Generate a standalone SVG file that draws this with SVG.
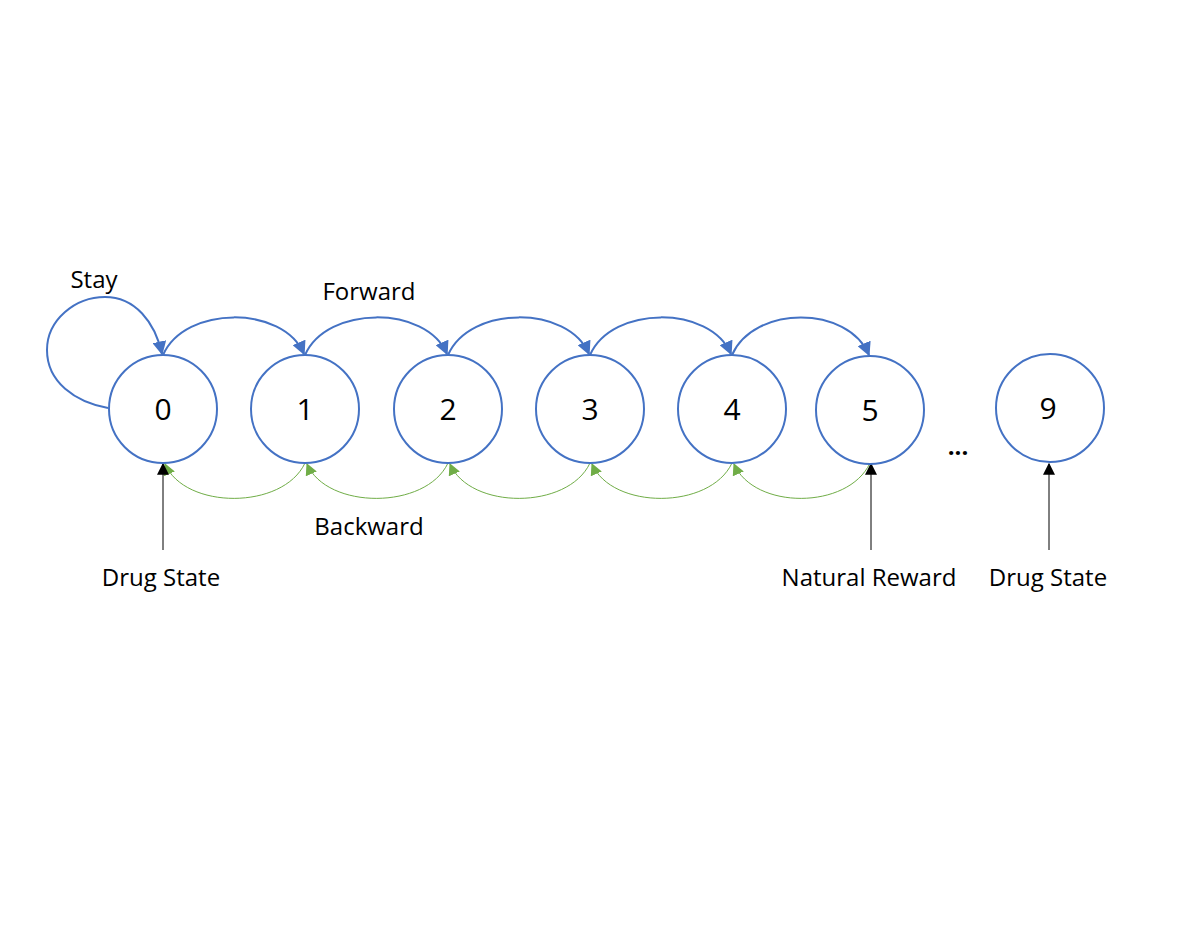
<svg xmlns="http://www.w3.org/2000/svg" width="1200" height="950" viewBox="0 0 1200 950">
<style>
.node{fill:#fff;stroke:#4472C4;stroke-width:2}
.num{font-family:"Open Sans","Liberation Sans",sans-serif;font-size:30px;fill:#000;text-anchor:middle}
.lbl{font-family:"Open Sans","Liberation Sans",sans-serif;font-size:24px;fill:#000;text-anchor:middle}
.fwd{fill:none;stroke:#4472C4;stroke-width:2;marker-end:url(#ab)}
.bwd{fill:none;stroke:#70AD47;stroke-width:1;marker-end:url(#ag)}
.inp{fill:none;stroke:#000;stroke-width:1;marker-end:url(#ak)}
</style>
<defs>
<marker id="ab" viewBox="0 0 10 10" refX="9" refY="5" markerWidth="7" markerHeight="7" orient="auto" markerUnits="strokeWidth"><path d="M0,0 L10,5 L0,10 z" fill="#4472C4"/></marker>
<marker id="ag" viewBox="0 0 10 10" refX="9" refY="5" markerWidth="12" markerHeight="12" orient="auto" markerUnits="strokeWidth"><path d="M0,0 L10,5 L0,10 z" fill="#70AD47"/></marker>
<marker id="ak" viewBox="0 0 10 10" refX="9" refY="5" markerWidth="12" markerHeight="12" orient="auto" markerUnits="strokeWidth"><path d="M0,0 L10,5 L0,10 z" fill="#000"/></marker>
</defs>
<rect width="1200" height="950" fill="#fff"/>
<g id="connectors">
<path class="fwd" d="M108,408 C75,402 47,382 47,350 C47,320 75,297 105,297 C135,297 155,322 162,354"/>
<path class="fwd" d="M163,355 C185,305 283,305 304,354"/>
<path class="fwd" d="M305,355 C327,305 426,305 447,354"/>
<path class="fwd" d="M448,355 C470,305 568,305 589,354"/>
<path class="fwd" d="M590,355 C612,305 710,305 731,354"/>
<path class="fwd" d="M732,355 C754,305 848,305 869,355"/>
<path class="bwd" d="M305,463 C283,510 185,510 165,464"/>
<path class="bwd" d="M448,463 C426,510 327,510 307,464"/>
<path class="bwd" d="M590,463 C568,510 470,510 450,464"/>
<path class="bwd" d="M732,463 C710,510 612,510 592,464"/>
<path class="bwd" d="M870,463 C848,510 754,510 734,464"/>
<line class="inp" x1="163" y1="550" x2="163" y2="464"/>
<line class="inp" x1="871" y1="550" x2="871" y2="464"/>
<line class="inp" x1="1049" y1="550" x2="1049" y2="464"/>
</g>
<g id="node0"><circle class="node" cx="163" cy="409" r="54"/><text class="num" x="163" y="420">0</text></g>
<g id="node1"><circle class="node" cx="305" cy="409" r="54"/><text class="num" x="305" y="420">1</text></g>
<g id="node2"><circle class="node" cx="448" cy="409" r="54"/><text class="num" x="448" y="420">2</text></g>
<g id="node3"><circle class="node" cx="590" cy="409" r="54"/><text class="num" x="590" y="420">3</text></g>
<g id="node4"><circle class="node" cx="732" cy="409" r="54"/><text class="num" x="732" y="420">4</text></g>
<g id="node5"><circle class="node" cx="870" cy="410" r="54"/><text class="num" x="870" y="421">5</text></g>
<g id="node9"><circle class="node" cx="1050" cy="408" r="54"/><text class="num" x="1048" y="419">9</text></g>
<g id="labels">
<text class="lbl" x="94" y="288">Stay</text>
<text class="lbl" x="369" y="300">Forward</text>
<text class="lbl" x="369" y="535">Backward</text>
<text class="lbl" x="161" y="586">Drug State</text>
<text class="lbl" x="869" y="586">Natural Reward</text>
<text class="lbl" x="1048" y="586">Drug State</text>
<text class="lbl" x="958" y="455" font-weight="bold">...</text>
</g>
</svg>
